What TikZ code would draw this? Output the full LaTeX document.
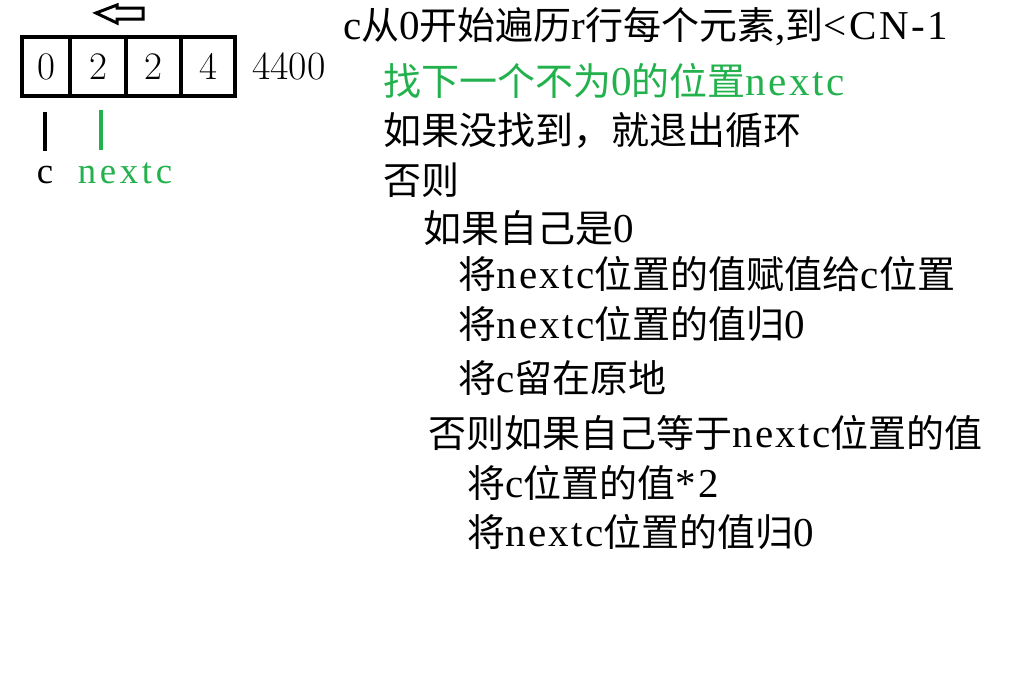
\documentclass[tikz,border=0pt]{standalone}
\usepackage{fontspec}
\newfontfamily\cjk{Noto Sans CJK SC}
\newfontfamily\lat[Scale=1.08,LetterSpace=6]{Liberation Serif}
\newfontfamily\tag[Scale=1.08,LetterSpace=10]{Liberation Serif}
\usetikzlibrary{positioning}
\definecolor{paintgreen}{RGB}{34,177,76}

\begin{document}
\begin{tikzpicture}[x=1pt, y=-1pt,
    cell/.style={draw, line width=4pt, minimum height=59pt, inner sep=0pt,
                 font=\fontsize{39}{41}\selectfont},
    marker/.style={line width=4pt},
    codeline/.style={anchor=west, inner sep=0pt, font=\cjk\fontsize{38}{40}\selectfont},
    varname/.style={anchor=base, inner sep=0pt, font=\tag\fontsize{34}{36}\selectfont}]
  \useasboundingbox (0,0) rectangle (1010,681);

  % the row
  \foreach \x/\w/\v [count=\i] in {46/48/0, 98/56/2, 153.5/55/2, 208/54/4}
    \node[cell, minimum width=\w pt] (cell\i) at (\x,66.5) {\v};
  \node (rest) [right=15pt of cell4, inner sep=0pt, font=\fontsize{40}{42}\selectfont] {4400};

  % hollow arrow above
  \draw[line width=3pt, line join=miter]
    (96,13) -- (117,5) -- (117,8) -- (143,8) -- (143,19) -- (117,19) -- (117,23) -- cycle;

  % pointers
  \draw[marker] (45,112) -- (45,151);
  \draw[marker, paintgreen] (101,110) -- (101,150);
  \node (c) [varname] at (45,183) {c};
  \node (nextc) [varname, text=paintgreen] at (125,183) {nextc};

  % steps
  \node (loop) [codeline] at (343,27)
    {{\lat c}从{\lat 0}开始遍历{\lat r}行每个元素{\lat ,}到{\lat <CN-1}};
  \node (findnext) [codeline, text=paintgreen] at (383,81)
    {找下一个不为{\lat 0}的位置{\lat nextc}};
  \node (notfound) [codeline] at (383,131) {如果没找到，就退出循环};
  \node (otherwise) [codeline] at (383,180) {否则};
  \node (ifzero) [codeline] at (423,228) {如果自己是{\lat 0}};
  \node (movenext) [codeline] at (458,274)
    {将{\lat nextc}位置的值赋值给{\lat c}位置};
  \node (clearnext) [codeline] at (458,324) {将{\lat nextc}位置的值归{\lat 0}};
  \node (stay) [codeline] at (458,378) {将{\lat c}留在原地};
  \node (ifequal) [codeline] at (428,433)
    {否则如果自己等于{\lat nextc}位置的值};
  \node (double) [codeline] at (467,483) {将{\lat c}位置的值{\lat *2}};
  \node (clearagain) [codeline] at (467,532) {将{\lat nextc}位置的值归{\lat 0}};
\end{tikzpicture}
\end{document}
